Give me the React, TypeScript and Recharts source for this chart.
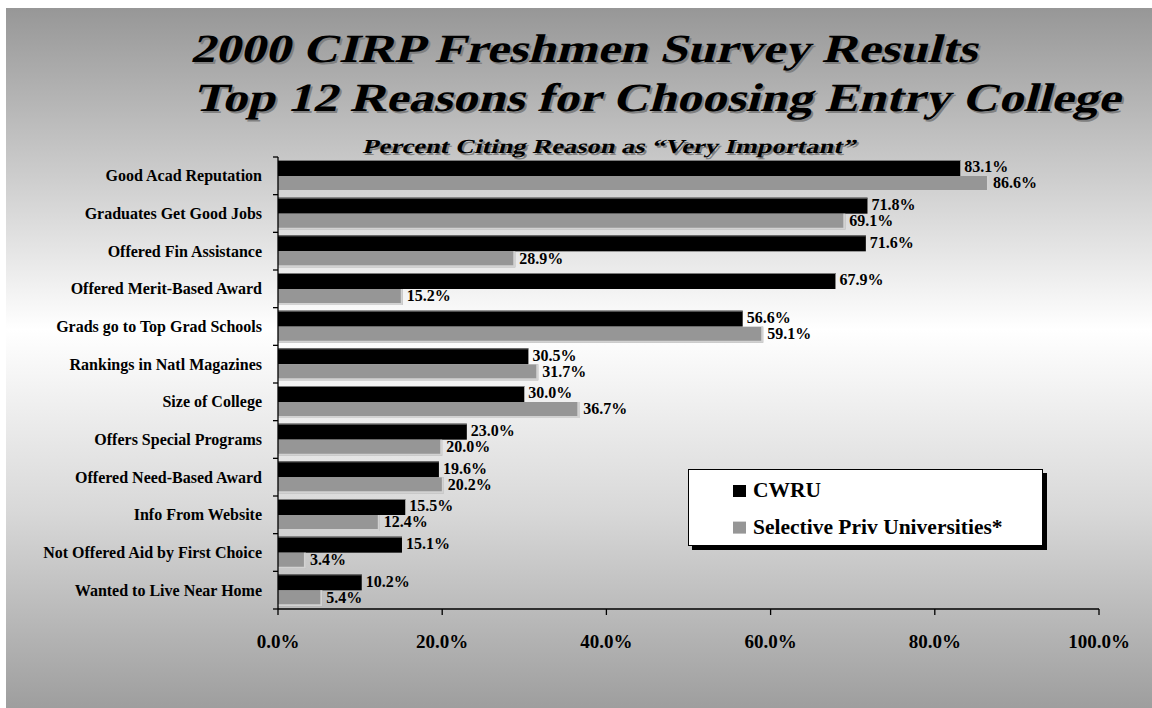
import React from "react";
import { BarChart, Bar, XAxis, YAxis, Legend, LabelList } from "recharts";

const reasons = [
  "Good Acad Reputation",
  "Graduates Get Good Jobs",
  "Offered Fin Assistance",
  "Offered Merit-Based Award",
  "Grads go to Top Grad Schools",
  "Rankings in Natl Magazines",
  "Size of College",
  "Offers Special Programs",
  "Offered Need-Based Award",
  "Info From Website",
  "Not Offered Aid by First Choice",
  "Wanted to Live Near Home",
];
const cwruValues = [83.1, 71.8, 71.6, 67.9, 56.6, 30.5, 30.0, 23.0, 19.6, 15.5, 15.1, 10.2];
const selectiveValues = [86.6, 69.1, 28.9, 15.2, 59.1, 31.7, 36.7, 20.0, 20.2, 12.4, 3.4, 5.4];
const xTicks = [0, 20, 40, 60, 80, 100];
const seriesNames = ["CWRU", "Selective Priv Universities*"];
const titleLine1 = "2000 CIRP Freshmen Survey Results";
const titleLine2 = "Top 12 Reasons for Choosing Entry College";
const subtitle = "Percent Citing Reason as \u201CVery Important\u201D";

const rows = reasons.map((r, i) => ({
  reason: r,
  cwru: cwruValues[i],
  selective: selectiveValues[i],
}));

const W = 1146;
const H = 700;
const MARGIN = { top: 149, right: 53, bottom: 59, left: 0 };
const Y_AXIS_W = 272;
const X_AXIS_H = 40;
const PLOT_LEFT = MARGIN.left + Y_AXIS_W;
const PLOT_TOP = MARGIN.top;
const PLOT_BOTTOM = H - MARGIN.bottom - X_AXIS_H;
const BAND = (PLOT_BOTTOM - PLOT_TOP) / reasons.length;
const FONT = "'Liberation Serif', 'Times New Roman', serif";

function CategoryTick(props: any) {
  const { payload, index } = props;
  const cy = payload.coordinate;
  const isLast = index === reasons.length - 1;
  return (
    <g>
      <line x1={PLOT_LEFT - 5} x2={PLOT_LEFT} y1={cy - BAND / 2} y2={cy - BAND / 2} stroke="#000" strokeWidth={1.3} />
      {isLast && (
        <line x1={PLOT_LEFT - 5} x2={PLOT_LEFT} y1={cy + BAND / 2} y2={cy + BAND / 2} stroke="#000" strokeWidth={1.3} />
      )}
      <text
        x={PLOT_LEFT - 16}
        y={cy + 5.5}
        textAnchor="end"
        fontFamily={FONT}
        fontWeight="bold"
        fontSize={16}
        fill="#000"
      >
        {payload.value}
      </text>
    </g>
  );
}

function BlackBarShape(props: any) {
  const { x, y, width, height, fill } = props;
  return (
    <g>
      <rect x={x} y={y} width={width} height={height} fill={fill} />
      <line x1={x} x2={x + width} y1={y + 0.5} y2={y + 0.5} stroke="#7a7a7a" strokeWidth={1} />
    </g>
  );
}

function GrayBarShape(props: any) {
  const { x, y, width, height, fill } = props;
  return (
    <g>
      <rect x={x} y={y} width={width} height={height} fill={fill} />
      <polyline
        points={`${x},${y + height - 1} ${x + width - 1},${y + height - 1} ${x + width - 1},${y}`}
        fill="none"
        stroke="#d2d2d2"
        strokeWidth={2}
      />
    </g>
  );
}

function ValueLabel(props: any) {
  const { x, y, width, height, value } = props;
  return (
    <text
      x={Number(x) + Number(width) + 4}
      y={Number(y) + Number(height) / 2 + 4.3}
      fontFamily={FONT}
      fontWeight="bold"
      fontSize={16}
      fill="#000"
    >
      {Number(value).toFixed(1) + "%"}
    </text>
  );
}

function LegendBox(props: any) {
  const payload = props.payload || [];
  return (
    <div style={{ width: 355, height: 77, position: "relative" }}>
      <div
        style={{
          position: "absolute",
          left: 4,
          top: 4,
          width: 355,
          height: 77,
          background: "#000",
        }}
      />
      <svg
        width={355}
        height={77}
        style={{ position: "absolute", left: 0, top: 0, display: "block" }}
      >
        <rect x={0.5} y={0.5} width={354} height={76} fill="#fff" stroke="#000" strokeWidth={1} />
        {payload.map((p: any, i: number) => (
          <g key={i}>
            <rect x={45} y={16 + i * 36.6} width={13} height={12} fill={p.color} />
            <text
              x={65}
              y={28 + i * 36.6}
              fontFamily={FONT}
              fontWeight="bold"
              fontSize={21.5}
              fill="#000"
            >
              {p.value}
            </text>
          </g>
        ))}
      </svg>
    </div>
  );
}

function ShadowText(props: any) {
  const { x, y, text, size, length } = props;
  const common = {
    fontFamily: FONT,
    fontWeight: "bold" as const,
    fontSize: size,
    textLength: length,
    lengthAdjust: "spacingAndGlyphs" as const,
  };
  return (
    <g>
      <g transform={`translate(${x + 2},${y + 2}) skewX(-15)`}>
        <text x={0} y={0} fill="#808080" {...common}>
          {text}
        </text>
      </g>
      <g transform={`translate(${x},${y}) skewX(-15)`}>
        <text x={0} y={0} fill="#000" {...common}>
          {text}
        </text>
      </g>
    </g>
  );
}

export default function App() {
  return (
    <div
      style={{
        position: "fixed",
        left: 6,
        top: 8,
        width: W,
        height: H,
        background:
          "linear-gradient(to bottom, #979797 0%, #cfcfcf 25%, #ffffff 46%, #d8d8d8 72%, #9e9e9e 100%)",
      }}
    >
      <BarChart
        layout="vertical"
        width={W}
        height={H}
        data={rows}
        margin={MARGIN}
        barCategoryGap={3}
        barGap={0}
      >
        <XAxis
          type="number"
          domain={[0, 100]}
          ticks={xTicks}
          tickFormatter={(v: number) => v.toFixed(1) + "%"}
          height={X_AXIS_H}
          tickSize={6}
          tickMargin={20}
          axisLine={{ stroke: "#000", strokeWidth: 1.3 }}
          tickLine={{ stroke: "#000", strokeWidth: 1.3 }}
          tick={{ fill: "#000", fontFamily: FONT, fontWeight: "bold", fontSize: 19 }}
          interval={0}
        />
        <YAxis
          type="category"
          dataKey="reason"
          width={Y_AXIS_W}
          tickLine={false}
          axisLine={{ stroke: "#000", strokeWidth: 1.3 }}
          tick={<CategoryTick />}
          interval={0}
        />
        <Legend
          layout="horizontal"
          verticalAlign="middle"
          align="center"
          content={<LegendBox />}
          wrapperStyle={{ left: 682, top: 461, width: 360, height: 82 }}
        />
        <Bar dataKey="cwru" name={seriesNames[0]} fill="#000000" shape={<BlackBarShape />} isAnimationActive={false}>
          <LabelList dataKey="cwru" content={<ValueLabel />} />
        </Bar>
        <Bar dataKey="selective" name={seriesNames[1]} fill="#969696" shape={<GrayBarShape />} isAnimationActive={false}>
          <LabelList dataKey="selective" content={<ValueLabel />} />
        </Bar>
      </BarChart>
      <svg
        width={W}
        height={160}
        style={{ position: "absolute", left: 0, top: 0, pointerEvents: "none" }}
      >
        <ShadowText x={184} y={54} text={titleLine1} size={40} length={787} />
        <ShadowText x={187} y={103} text={titleLine2} size={40} length={927} />
        <ShadowText x={356} y={145} text={subtitle} size={20} length={493} />
      </svg>
    </div>
  );
}
